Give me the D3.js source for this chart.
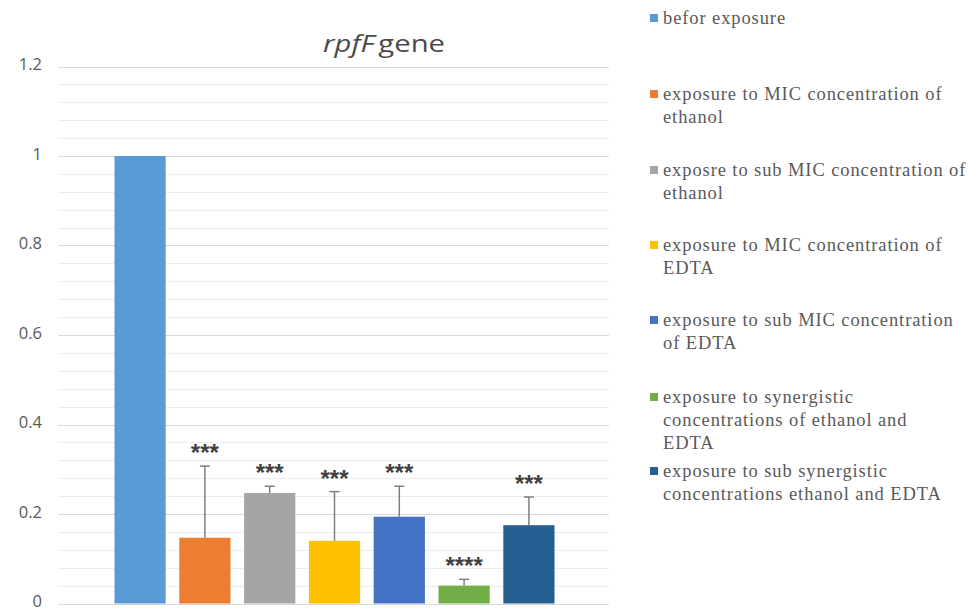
<!DOCTYPE html>
<html>
<head>
<meta charset="utf-8">
<script src="https://cdn.jsdelivr.net/npm/d3@7/dist/d3.min.js"></script>
<style>
  html, body { margin: 0; padding: 0; background: #fff; }
  svg { display: block; }
</style>
</head>
<body>
<svg id="chart" width="970" height="610"></svg>
<script>
// Relative expression of the rpfF gene under each treatment
const groups = [
  "befor exposure",
  "exposure to MIC concentration of ethanol",
  "exposre to sub MIC concentration of ethanol",
  "exposure to MIC concentration of EDTA",
  "exposure to sub MIC concentration of EDTA",
  "exposure to synergistic concentrations of ethanol and EDTA",
  "exposure to sub synergistic concentrations ethanol and EDTA"
];
const legendLines = [
  ["befor exposure"],
  ["exposure to MIC concentration of", "ethanol"],
  ["exposre to sub MIC concentration of", "ethanol"],
  ["exposure to MIC concentration of", "EDTA"],
  ["exposure to sub MIC concentration", "of EDTA"],
  ["exposure to synergistic", "concentrations of ethanol and", "EDTA"],
  ["exposure to sub synergistic", "concentrations ethanol and EDTA"]
];
const values = [1, 0.147, 0.247, 0.14, 0.194, 0.04, 0.175];
const errors = [0, 0.16, 0.015, 0.11, 0.068, 0.014, 0.063];
const stars = ["", "***", "***", "***", "***", "****", "***"];
const colors = ["#5b9bd5", "#ed7d31", "#a5a5a5", "#ffc000", "#4472c4", "#70ad47", "#255e91"];
const yTicks = [0, 0.2, 0.4, 0.6, 0.8, 1, 1.2];
const yTickLabels = ["0", "0.2", "0.4", "0.6", "0.8", "1", "1.2"];

const svg = d3.select("#chart");
const plotLeft = 58, plotRight = 609;

const y = d3.scaleLinear().domain([0, 1.2]).range([603.5, 66.5]);
const x = d3.scaleBand().domain(groups).range([108, 561]).paddingInner(0.21).paddingOuter(0.1);

// Gridlines: minor every 0.04, major every 0.2
const minor = d3.range(0, 1.2001, 0.04).map(v => +v.toFixed(2));
svg.append("g").selectAll("line").data(minor).join("line")
  .attr("x1", plotLeft).attr("x2", plotRight)
  .attr("y1", d => Math.round(y(d)) + 0.5).attr("y2", d => Math.round(y(d)) + 0.5)
  .attr("stroke", d => yTicks.some(t => Math.abs(t - d) < 1e-6) ? "#d9d9d9" : "#ececec")
  .attr("stroke-width", 1);

// Y axis labels
const yAxis = d3.axisLeft(y).tickValues(yTicks)
  .tickFormat((d, i) => yTickLabels[i]).tickSize(0).tickPadding(0);
const yg = svg.append("g").attr("transform", "translate(42,0)").call(yAxis);
yg.select(".domain").remove();
yg.selectAll("text")
  .attr("font-family", "'Open Sans', 'Liberation Sans', sans-serif")
  .attr("font-size", 16.5).attr("fill", "#595959")
  .attr("dy", "0.2em");

// Bars
svg.append("g").selectAll("rect").data(groups).join("rect")
  .attr("x", d => x(d))
  .attr("width", x.bandwidth())
  .attr("y", (d, i) => y(values[i]))
  .attr("height", (d, i) => y(0) - y(values[i]))
  .attr("fill", (d, i) => colors[i]);

// Upper error bars
const eb = svg.append("g").attr("stroke", "#7f7f7f").attr("stroke-width", 1.5);
groups.forEach((g, i) => {
  if (!errors[i]) return;
  const cx = x(g) + x.bandwidth() / 2;
  const top = y(values[i] + errors[i]);
  eb.append("line").attr("x1", cx).attr("x2", cx).attr("y1", y(values[i])).attr("y2", top);
  eb.append("line").attr("x1", cx - 5).attr("x2", cx + 5).attr("y1", top).attr("y2", top);
});

// Significance marks
svg.append("g").selectAll("text").data(groups).join("text")
  .attr("x", d => x(d) + x.bandwidth() / 2)
  .attr("y", (d, i) => y(values[i] + errors[i]) - 5)
  .attr("text-anchor", "middle")
  .attr("font-family", "'Liberation Sans', sans-serif")
  .attr("font-weight", "bold")
  .attr("font-size", 24)
  .attr("fill", "#404040")
  .text((d, i) => stars[i]);

// Title
const title = svg.append("text").attr("x", 323).attr("y", 52)
  .attr("textLength", 122).attr("lengthAdjust", "spacingAndGlyphs")
  .attr("font-family", "'Open Sans', 'Liberation Sans', sans-serif")
  .attr("font-size", 23).attr("fill", "#4a4a4a");
title.append("tspan").attr("font-style", "italic").text("rpfF");
title.append("tspan").attr("dx", 3).text("gene");

// Legend
const legendY = [18, 94, 170, 245, 320, 397, 471];
const leg = svg.append("g");
legendLines.forEach((lines, i) => {
  const gy = legendY[i];
  leg.append("rect").attr("x", 650).attr("y", gy - 4).attr("width", 8).attr("height", 8).attr("fill", colors[i]);
  const t = leg.append("text")
    .attr("font-family", "'Liberation Serif', 'Times New Roman', serif")
    .attr("font-size", 18.5).attr("letter-spacing", 0.9).attr("fill", "#595959");
  lines.forEach((ln, j) => {
    t.append("tspan").attr("x", 663).attr("y", gy + 6 + j * 23).text(ln);
  });
});
</script>
</body>
</html>
